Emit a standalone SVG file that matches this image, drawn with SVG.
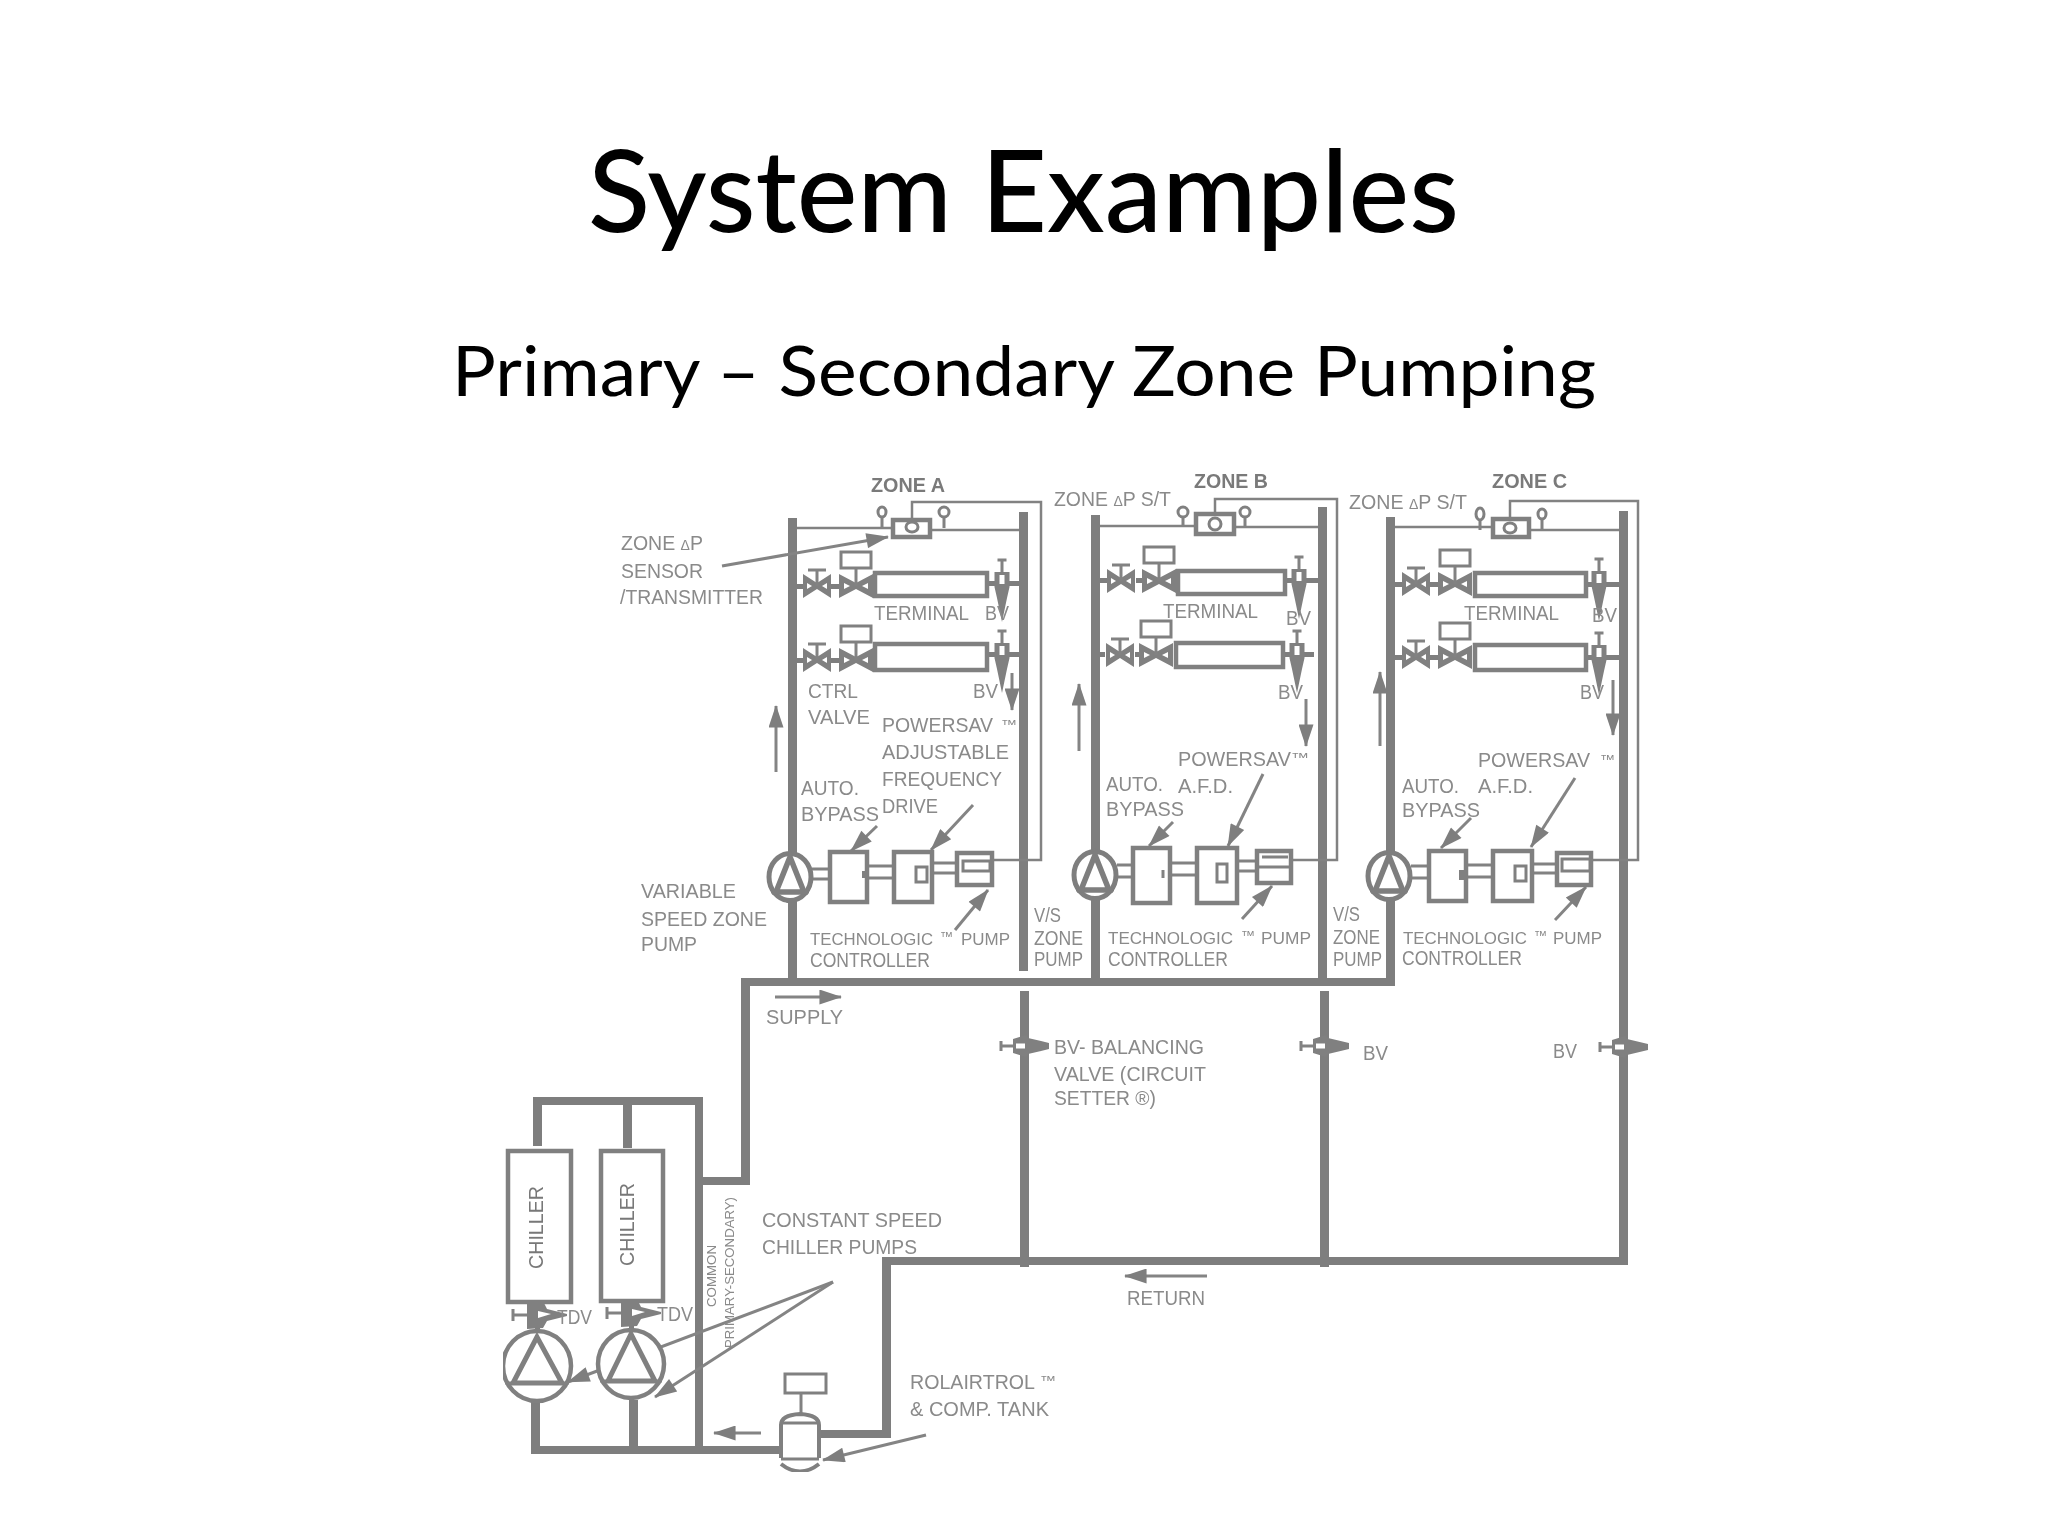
<svg xmlns="http://www.w3.org/2000/svg" width="2048" height="1536" viewBox="0 0 2048 1536">
<style>
.h{font-family:Lato,"Liberation Sans",sans-serif;fill:#000;font-weight:500}
.t{font-family:"Liberation Sans",Arial,sans-serif;font-size:19.5px;fill:#8a8a8a}
.b{font-weight:bold;fill:#7a7a7a}
.s{font-size:13px}
.c{font-size:16.800px}
.pipe{fill:#7e7e7e;stroke:none}
.w{fill:none;stroke:#828282;stroke-width:2.5}
.l{fill:none;stroke:#828282;stroke-width:3}
.box{fill:#fff;stroke:#808080;stroke-width:4.500}
.thin{fill:#fff;stroke:#808080;stroke-width:3}
.f{fill:#808080;stroke:none}
.a{fill:none;stroke:#848484;stroke-width:3}
</style>
<defs>
<filter id="soft" x="0" y="0" width="100%" height="100%"><feGaussianBlur stdDeviation="0.6"/></filter>
<g id="mv">
<polygon class="f" points="-14,-12 0,-3 14,-12 14,12 0,3 -14,12"/>
<polygon fill="#fff" points="-10,-3 -5,0 -10,3"/><polygon fill="#fff" points="10,-3 5,0 10,3"/>
<path class="l" d="M0,0V-15M-9,-16H9"/>
</g>
<g id="cv">
<polygon class="f" points="-17,-12 0,-3 17,-12 17,12 0,3 -17,12"/>
<polygon fill="#fff" points="-12,-3 -6,0 -12,3"/><polygon fill="#fff" points="12,-3 6,0 12,3"/>
<path class="l" d="M0,0V-18"/>
<rect class="thin" x="-15" y="-34" width="30" height="16"/>
</g>
<g id="bv">
<polygon class="f" points="-7.500,-12 7.500,-12 7.500,3 5,14 0,38 -5,14 -7.500,3"/>
<rect fill="#fff" x="-2.500" y="-9" width="5" height="9"/>
<path class="l" d="M0,-12V-24M-4.500,-24H4.500"/>
</g>
<g id="bvh">
<polygon class="f" points="-11,-7 2,-11 4,-8 25,-3 25,3 4,8 2,11 -11,7"/>
<rect fill="#fff" x="-8" y="-2.500" width="9" height="5"/>
<path class="l" d="M-11,0H-23M-23,-5V5"/>
</g>
<g id="tdv">
<polygon class="f" points="-10,-12 6,-14 10,-6 30,-1 30,1 10,6 6,13 -10,14"/>
<polygon fill="#fff" points="1,-4 14,-1 1,3"/>
<path class="l" d="M-10,0H-24M-24,-6V6"/>
</g>
<g id="zp">
<ellipse cx="0" cy="0" rx="21" ry="23.500" fill="#fff" stroke="#7e7e7e" stroke-width="5"/>
<path d="M0,-20L-14,15H14Z" fill="#fff" stroke="#7e7e7e" stroke-width="5.500"/>
<path d="M-19,15H19" stroke="#7e7e7e" stroke-width="3"/>
</g>
<marker id="ab" viewBox="0 0 12 8" refX="11.500" refY="4" markerWidth="26" markerHeight="15" markerUnits="userSpaceOnUse" orient="auto"><path d="M0,0L12,4L0,8Z" fill="#7e7e7e"/></marker>
</defs>
<rect width="2048" height="1536" fill="#fff"/>
<g id="title">
<text class="h" x="588" y="232" font-size="115" textLength="871" lengthAdjust="spacingAndGlyphs">System Examples</text>
<text class="h" x="452" y="396" font-size="69" textLength="1144" lengthAdjust="spacingAndGlyphs" style="font-weight:400">Primary – Secondary Zone Pumping</text>
</g>
<g filter="url(#soft)">
<g id="connectors">
<path class="pipe" d="M741,978H1395V986H750V1185H703V1446H780V1454H531V1402H540V1446H629V1400H638V1446H695V1105H632V1148H623V1105H542V1146H533V1097H703V1177H741Z"/>
<rect class="pipe" x="788" y="518" width="9" height="462"/>
<rect class="pipe" x="1019" y="512" width="9" height="459"/>
<rect class="pipe" x="1091" y="515" width="9" height="465"/>
<rect class="pipe" x="1318" y="507" width="9" height="473"/>
<rect class="pipe" x="1386" y="517" width="9" height="463"/>
<rect class="pipe" x="1619" y="511" width="9" height="754"/>
<rect class="pipe" x="1020" y="991" width="9" height="276"/>
<rect class="pipe" x="1320" y="991" width="9" height="276"/>
<path class="pipe" d="M882,1257H1628V1265H891V1438H820V1430H882Z"/>
<path class="pipe" d="M780,1445h8v10h-8z"/>
<path class="w" d="M797,528H891M932,530H1019M912,518V502H1041V860H993"/>
<path class="w" d="M1100,526H1194M1235,527H1318M1215,512V499H1337V860H1292"/>
<path class="w" d="M1395,527H1491M1530,530H1619M1510,517V501H1638V860H1593"/>
<path class="l" d="M812,869H828M812,879H828M868,866H892M868,878H892M933,863H956M933,873H956"/>
<path class="l" d="M1117,865H1131M1117,877H1131M1171,863H1195M1171,875H1195M1238,861H1256M1238,871H1256"/>
<path class="l" d="M1411,866H1427M1411,878H1427M1467,865H1491M1467,877H1491M1533,864H1555M1533,873H1555"/>
<path class="pipe" d="M797,584h6v5h-6zM831,584h9v5h-9zM988,581h31v5h-31zM797,658h6v5h-6zM831,658h9v5h-9zM988,652h31v5h-31z"/>
<path class="pipe" d="M1100,578h7v5h-7zM1136,578h7v5h-7zM1286,578h32v5h-32zM1100,652h5v5h-5zM1135,652h5v5h-5zM1284,652h30v5h-30z"/>
<path class="pipe" d="M1395,582h7v5h-7zM1430,582h9v5h-9zM1587,582h32v5h-32zM1395,655h7v5h-7zM1430,655h9v5h-9zM1587,655h32v5h-32z"/>
<path class="pipe" d="M535,1303h5v28h-5zM629,1303h5v28h-5z"/>
<path class="a" marker-end="url(#ab)" d="M776,772V706"/><path class="a" marker-end="url(#ab)" d="M1012,673V710"/>
<path class="a" marker-end="url(#ab)" d="M1079,751V684"/><path class="a" marker-end="url(#ab)" d="M1306,699V746"/>
<path class="a" marker-end="url(#ab)" d="M1380,746V672"/><path class="a" marker-end="url(#ab)" d="M1613,680V735"/>
<path class="a" marker-end="url(#ab)" d="M775,997H841"/><path class="a" marker-end="url(#ab)" d="M1207,1276H1125"/><path class="a" marker-end="url(#ab)" d="M761,1433H714"/>
<path class="a" marker-end="url(#ab)" d="M722,566L888,537"/>
<path class="a" marker-end="url(#ab)" d="M877,826L851,851"/><path class="a" marker-end="url(#ab)" d="M973,805L931,850"/><path class="a" marker-end="url(#ab)" d="M955,930L988,890"/>
<path class="a" marker-end="url(#ab)" d="M1173,822L1149,846"/><path class="a" marker-end="url(#ab)" d="M1263,774L1228,846"/><path class="a" marker-end="url(#ab)" d="M1242,919L1272,886"/>
<path class="a" marker-end="url(#ab)" d="M1471,818L1441,848"/><path class="a" marker-end="url(#ab)" d="M1575,778L1531,847"/><path class="a" marker-end="url(#ab)" d="M1555,920L1586,887"/>
<path class="a" marker-end="url(#ab)" d="M833,1282L568,1382"/><path class="a" marker-end="url(#ab)" d="M833,1282L655,1397"/><path class="a" marker-end="url(#ab)" d="M926,1435L823,1460"/>
</g>
<g id="zone-a">
<rect class="box" x="893" y="520" width="37" height="17"/><ellipse cx="912" cy="527" rx="6" ry="5" class="thin"/>
<path class="l" d="M882,517V527M944,517V528"/><ellipse cx="882" cy="512" rx="4" ry="5" class="thin"/><ellipse cx="944" cy="512" rx="5" ry="5" class="thin"/>
<use href="#mv" x="817" y="586"/><use href="#cv" x="856" y="586"/><rect class="box" x="875" y="573" width="112" height="23"/><use href="#bv" x="1002" y="584"/>
<use href="#mv" x="817" y="660"/><use href="#cv" x="856" y="660"/><rect class="box" x="875" y="644" width="112" height="26"/><use href="#bv" x="1002" y="655"/>
<use href="#zp" x="790" y="877"/>
<rect class="box" x="830" y="852" width="37" height="50"/><rect class="f" x="862" y="871" width="6" height="7"/>
<rect class="box" x="894" y="852" width="38" height="50"/><rect class="thin" x="916" y="867" width="11" height="15"/>
<rect class="box" x="957" y="853" width="35" height="32"/><rect class="thin" x="963" y="861" width="27" height="10"/>
</g>
<g id="zone-b">
<rect class="box" x="1196" y="514" width="38" height="20"/><ellipse cx="1215" cy="524" rx="6" ry="6" class="thin"/>
<path class="l" d="M1183,516V526M1245,516V527"/><ellipse cx="1183" cy="512" rx="5" ry="5" class="thin"/><ellipse cx="1245" cy="512" rx="5" ry="5" class="thin"/>
<use href="#mv" x="1121" y="581"/><use href="#cv" x="1159" y="581"/><rect class="box" x="1178" y="571" width="107" height="23"/><use href="#bv" x="1299" y="581"/>
<use href="#mv" x="1120" y="655"/><use href="#cv" x="1156" y="655"/><rect class="box" x="1176" y="643" width="107" height="24"/><use href="#bv" x="1297" y="655"/>
<use href="#zp" x="1095" y="875"/>
<rect class="box" x="1133" y="848" width="37" height="55"/><path class="l" d="M1163,870V878"/>
<rect class="box" x="1197" y="848" width="40" height="55"/><rect class="thin" x="1217" y="864" width="10" height="18"/>
<rect class="box" x="1257" y="851" width="34" height="32"/><path class="l" d="M1259,867H1289M1262,857H1288"/>
</g>
<g id="zone-c">
<rect class="box" x="1493" y="519" width="36" height="18"/><ellipse cx="1510" cy="528" rx="6" ry="5" class="thin"/>
<path class="l" d="M1480,519V530M1542,518V530"/><ellipse cx="1480" cy="514" rx="4" ry="6" class="thin"/><ellipse cx="1542" cy="514" rx="4" ry="5" class="thin"/>
<use href="#mv" x="1416" y="584"/><use href="#cv" x="1455" y="584"/><rect class="box" x="1475" y="573" width="111" height="23"/><use href="#bv" x="1599" y="583"/>
<use href="#mv" x="1416" y="657"/><use href="#cv" x="1455" y="657"/><rect class="box" x="1475" y="645" width="111" height="25"/><use href="#bv" x="1599" y="657"/>
<use href="#zp" x="1389" y="876"/>
<rect class="box" x="1429" y="851" width="37" height="50"/><rect class="f" x="1459" y="870" width="8" height="10"/>
<rect class="box" x="1493" y="851" width="39" height="50"/><rect class="thin" x="1515" y="866" width="11" height="15"/>
<rect class="box" x="1557" y="853" width="34" height="32"/><rect class="thin" x="1562" y="859" width="28" height="12"/>
</g>
<g id="balancing-valves">
<use href="#bvh" x="1024" y="1046"/><use href="#bvh" x="1324" y="1046"/><use href="#bvh" x="1623" y="1047"/>
</g>
<g id="chiller-1"><rect class="box" x="508" y="1151" width="63" height="151"/><text class="t" transform="translate(543,1269) rotate(-90)" textLength="83" lengthAdjust="spacingAndGlyphs" style="font-size:21px;fill:#787878">CHILLER</text></g>
<g id="chiller-2"><rect class="box" x="601" y="1151" width="62" height="150"/><text class="t" transform="translate(634,1266) rotate(-90)" textLength="83" lengthAdjust="spacingAndGlyphs" style="font-size:21px;fill:#787878">CHILLER</text></g>
<g id="pumps">
<use href="#tdv" x="537" y="1315"/><use href="#tdv" x="631" y="1313"/>
<ellipse cx="537" cy="1366" rx="34" ry="35" class="box"/><path d="M537,1337L513,1383H562Z" fill="#fff" stroke="#808080" stroke-width="5"/><path class="l" d="M505,1383H569"/>
<ellipse cx="631" cy="1364" rx="33" ry="34" class="box"/><path d="M631,1334L608,1381H655Z" fill="#fff" stroke="#808080" stroke-width="5"/><path class="l" d="M600,1381H662"/>
</g>
<g id="tank">
<rect class="thin" x="785" y="1374" width="41" height="19"/><path class="l" d="M801,1393V1414"/>
<path d="M781,1458V1425Q781,1415 800,1414Q819,1415 819,1425V1458" fill="#fff" stroke="#808080" stroke-width="4"/>
<path d="M781,1423H819M781,1459H819" stroke="#808080" stroke-width="3"/>
<path d="M781,1464Q800,1479 819,1464" fill="none" stroke="#808080" stroke-width="4"/>
</g>
<g id="labels">
<text class="t b" lengthAdjust="spacingAndGlyphs" x="871" y="492" textLength="74">ZONE A</text>
<text class="t" lengthAdjust="spacingAndGlyphs" x="621" y="550" textLength="82">ZONE <tspan font-size="14">Δ</tspan>P</text>
<text class="t" lengthAdjust="spacingAndGlyphs" x="621" y="578" textLength="82">SENSOR</text>
<text class="t" lengthAdjust="spacingAndGlyphs" x="620" y="604" textLength="143">/TRANSMITTER</text>
<text class="t" lengthAdjust="spacingAndGlyphs" x="874" y="620" textLength="95">TERMINAL</text>
<text class="t" lengthAdjust="spacingAndGlyphs" x="985" y="620" textLength="24">BV</text>
<text class="t" lengthAdjust="spacingAndGlyphs" x="808" y="698" textLength="50">CTRL</text>
<text class="t" lengthAdjust="spacingAndGlyphs" x="808" y="724" textLength="62">VALVE</text>
<text class="t" lengthAdjust="spacingAndGlyphs" x="973" y="698" textLength="25">BV</text>
<text class="t" lengthAdjust="spacingAndGlyphs" x="882" y="732" textLength="111">POWERSAV</text>
<text class="t s" lengthAdjust="spacingAndGlyphs" x="1001" y="729" textLength="16">™</text>
<text class="t" lengthAdjust="spacingAndGlyphs" x="882" y="759" textLength="127">ADJUSTABLE</text>
<text class="t" lengthAdjust="spacingAndGlyphs" x="882" y="786" textLength="120">FREQUENCY</text>
<text class="t" lengthAdjust="spacingAndGlyphs" x="882" y="813" textLength="56">DRIVE</text>
<text class="t" lengthAdjust="spacingAndGlyphs" x="801" y="795" textLength="58">AUTO.</text>
<text class="t" lengthAdjust="spacingAndGlyphs" x="801" y="821" textLength="78">BYPASS</text>
<text class="t" lengthAdjust="spacingAndGlyphs" x="641" y="898" textLength="95">VARIABLE</text>
<text class="t" lengthAdjust="spacingAndGlyphs" x="641" y="926" textLength="126">SPEED ZONE</text>
<text class="t" lengthAdjust="spacingAndGlyphs" x="641" y="951" textLength="56">PUMP</text>
<text class="t c" lengthAdjust="spacingAndGlyphs" x="810" y="945" textLength="123">TECHNOLOGIC</text>
<text class="t s" lengthAdjust="spacingAndGlyphs" x="940" y="941" textLength="13">™</text>
<text class="t c" lengthAdjust="spacingAndGlyphs" x="961" y="945" textLength="49">PUMP</text>
<text class="t" lengthAdjust="spacingAndGlyphs" x="810" y="967" textLength="120">CONTROLLER</text>
<text class="t" lengthAdjust="spacingAndGlyphs" x="1034" y="922" textLength="27">V/S</text>
<text class="t" lengthAdjust="spacingAndGlyphs" x="1034" y="945" textLength="49">ZONE</text>
<text class="t" lengthAdjust="spacingAndGlyphs" x="1034" y="966" textLength="49">PUMP</text>
<text class="t" lengthAdjust="spacingAndGlyphs" x="1054" y="506" textLength="117">ZONE <tspan font-size="14">Δ</tspan>P S/T</text>
<text class="t b" lengthAdjust="spacingAndGlyphs" x="1194" y="488" textLength="74">ZONE B</text>
<text class="t" lengthAdjust="spacingAndGlyphs" x="1349" y="509" textLength="118">ZONE <tspan font-size="14">Δ</tspan>P S/T</text>
<text class="t b" lengthAdjust="spacingAndGlyphs" x="1492" y="488" textLength="75">ZONE C</text>
<text class="t" lengthAdjust="spacingAndGlyphs" x="1163" y="618" textLength="95">TERMINAL</text>
<text class="t" lengthAdjust="spacingAndGlyphs" x="1286" y="625" textLength="25">BV</text>
<text class="t" lengthAdjust="spacingAndGlyphs" x="1278" y="699" textLength="25">BV</text>
<text class="t" lengthAdjust="spacingAndGlyphs" x="1178" y="766" textLength="113">POWERSAV</text>
<text class="t s" lengthAdjust="spacingAndGlyphs" x="1291" y="762" textLength="18">™</text>
<text class="t" lengthAdjust="spacingAndGlyphs" x="1178" y="793" textLength="55">A.F.D.</text>
<text class="t" lengthAdjust="spacingAndGlyphs" x="1106" y="791" textLength="57">AUTO.</text>
<text class="t" lengthAdjust="spacingAndGlyphs" x="1106" y="816" textLength="78">BYPASS</text>
<text class="t c" lengthAdjust="spacingAndGlyphs" x="1108" y="944" textLength="125">TECHNOLOGIC</text>
<text class="t s" lengthAdjust="spacingAndGlyphs" x="1241" y="940" textLength="14">™</text>
<text class="t c" lengthAdjust="spacingAndGlyphs" x="1261" y="944" textLength="50">PUMP</text>
<text class="t" lengthAdjust="spacingAndGlyphs" x="1108" y="966" textLength="120">CONTROLLER</text>
<text class="t" lengthAdjust="spacingAndGlyphs" x="1333" y="921" textLength="27">V/S</text>
<text class="t" lengthAdjust="spacingAndGlyphs" x="1333" y="944" textLength="47">ZONE</text>
<text class="t" lengthAdjust="spacingAndGlyphs" x="1333" y="966" textLength="49">PUMP</text>
<text class="t" lengthAdjust="spacingAndGlyphs" x="1464" y="620" textLength="95">TERMINAL</text>
<text class="t" lengthAdjust="spacingAndGlyphs" x="1592" y="622" textLength="25">BV</text>
<text class="t" lengthAdjust="spacingAndGlyphs" x="1580" y="699" textLength="24">BV</text>
<text class="t" lengthAdjust="spacingAndGlyphs" x="1478" y="767" textLength="112">POWERSAV</text>
<text class="t s" lengthAdjust="spacingAndGlyphs" x="1600" y="764" textLength="15">™</text>
<text class="t" lengthAdjust="spacingAndGlyphs" x="1478" y="793" textLength="55">A.F.D.</text>
<text class="t" lengthAdjust="spacingAndGlyphs" x="1402" y="793" textLength="57">AUTO.</text>
<text class="t" lengthAdjust="spacingAndGlyphs" x="1402" y="817" textLength="78">BYPASS</text>
<text class="t c" lengthAdjust="spacingAndGlyphs" x="1403" y="944" textLength="124">TECHNOLOGIC</text>
<text class="t s" lengthAdjust="spacingAndGlyphs" x="1534" y="940" textLength="13">™</text>
<text class="t c" lengthAdjust="spacingAndGlyphs" x="1553" y="944" textLength="49">PUMP</text>
<text class="t" lengthAdjust="spacingAndGlyphs" x="1402" y="965" textLength="120">CONTROLLER</text>
<text class="t" lengthAdjust="spacingAndGlyphs" x="766" y="1024" textLength="77">SUPPLY</text>
<text class="t" lengthAdjust="spacingAndGlyphs" x="1054" y="1054" textLength="150">BV- BALANCING</text>
<text class="t" lengthAdjust="spacingAndGlyphs" x="1054" y="1081" textLength="152">VALVE (CIRCUIT</text>
<text class="t" lengthAdjust="spacingAndGlyphs" x="1054" y="1105" textLength="102">SETTER ®)</text>
<text class="t" lengthAdjust="spacingAndGlyphs" x="1363" y="1060" textLength="25">BV</text>
<text class="t" lengthAdjust="spacingAndGlyphs" x="1553" y="1058" textLength="24">BV</text>
<text class="t" lengthAdjust="spacingAndGlyphs" x="762" y="1227" textLength="180">CONSTANT SPEED</text>
<text class="t" lengthAdjust="spacingAndGlyphs" x="762" y="1254" textLength="155">CHILLER PUMPS</text>
<text class="t" lengthAdjust="spacingAndGlyphs" x="1127" y="1305" textLength="78">RETURN</text>
<text class="t" lengthAdjust="spacingAndGlyphs" x="910" y="1389" textLength="125">ROLAIRTROL</text>
<text class="t s" lengthAdjust="spacingAndGlyphs" x="1040" y="1385" textLength="16">™</text>
<text class="t" lengthAdjust="spacingAndGlyphs" x="910" y="1416" textLength="139">&amp; COMP. TANK</text>
<text class="t" lengthAdjust="spacingAndGlyphs" x="557" y="1324" textLength="35">TDV</text>
<text class="t" lengthAdjust="spacingAndGlyphs" x="657" y="1321" textLength="36">TDV</text>
<text class="t" lengthAdjust="spacingAndGlyphs" transform="translate(716,1307) rotate(-90)" textLength="62" style="font-size:13px">COMMON</text>
<text class="t" lengthAdjust="spacingAndGlyphs" transform="translate(734,1348) rotate(-90)" textLength="151" style="font-size:13px">PRIMARY-SECONDARY)</text>
</g>
</g>
</svg>
